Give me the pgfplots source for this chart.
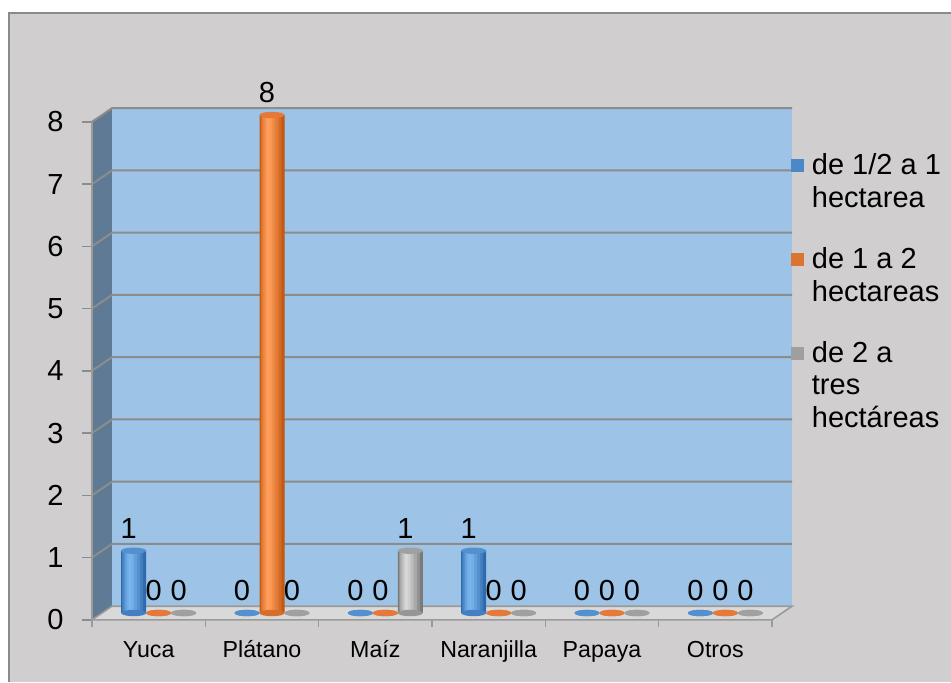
\documentclass[border=0pt]{standalone}
\usepackage{fontspec}
\setmainfont{Liberation Sans}
\usepackage{pgfplots}
\pgfplotsset{compat=1.18}
\usepackage{pgfplotstable}
\definecolor{bgc}{HTML}{D0CECE}
\definecolor{framec}{HTML}{8A8A8A}
\definecolor{wallc}{HTML}{9DC3E6}
\definecolor{sidec}{HTML}{5F7A94}
\definecolor{floorc}{HTML}{D9D9D9}
\definecolor{edgec}{HTML}{9A9A9A}
\definecolor{gridc}{HTML}{8C8C8C}
\definecolor{bD}{HTML}{2E6AAE}\definecolor{bL}{HTML}{78B4EC}\definecolor{bT}{HTML}{5290CF}
\definecolor{oD}{HTML}{C45812}\definecolor{oL}{HTML}{FF9E5A}\definecolor{oT}{HTML}{E4793A}
\definecolor{gD}{HTML}{7A7A7A}\definecolor{gL}{HTML}{D6D6D6}\definecolor{gT}{HTML}{A0A0A0}
\pgfdeclareplotmark{cyltop}{\pgfpathellipse{\pgfpointorigin}{\pgfqpoint{6.25pt}{0pt}}{\pgfqpoint{0pt}{1.6pt}}\pgfusepathqfill}
\pgfplotstableread{
x a b c
0 1 0 0
1 0 8 0
2 0 0 1
3 1 0 0
4 0 0 0
5 0 0 0
}\data
% pseudo-cylinder: stacked strips of the same bar, narrower and lighter
\newcommand\cyl[4]{%
 \addplot[forget plot, ybar, bar width=12.5pt, bar shift={#2pt}, draw=none, fill=#3] table[x=x, y=#1] {\data};
 \addplot[forget plot, ybar, bar width=10.5pt, bar shift={#2pt-0.5pt}, draw=none, fill=#4!25!#3] table[x=x, y=#1] {\data};
 \addplot[forget plot, ybar, bar width=8.5pt, bar shift={#2pt-0.9pt}, draw=none, fill=#4!50!#3] table[x=x, y=#1] {\data};
 \addplot[forget plot, ybar, bar width=6pt, bar shift={#2pt-1.3pt}, draw=none, fill=#4!72!#3] table[x=x, y=#1] {\data};
 \addplot[forget plot, ybar, bar width=3.5pt, bar shift={#2pt-1.6pt}, draw=none, fill=#4!90!#3] table[x=x, y=#1] {\data};
 \addplot[forget plot, ybar, bar width=1.5pt, bar shift={#2pt-1.8pt}, draw=none, fill=#4] table[x=x, y=#1] {\data};
}
\begin{document}
\begin{tikzpicture}
\useasboundingbox (-51pt,-34.5pt) rectangle (424.5pt,306.5pt);
\fill[white] (-51pt,-34.5pt) rectangle (424.5pt,306.5pt);
\fill[bgc] (-46.5pt,-34.5pt) rectangle (424.5pt,300pt);
\draw[framec, line width=0.8pt] (-46.5pt,-34.5pt) -- (-46.5pt,300pt) -- (424.5pt,300pt);
\begin{axis}[
  at={(0,0)}, anchor=south west,
  scale only axis, width=340pt, height=249pt,
  xmin=-0.5, xmax=5.5, ymin=0, ymax=8,
  clip=false,
  axis lines*=left, axis line style={draw=none},
  major tick length=0pt,
  /pgf/number format/assume math mode=true,
  ytick={0,...,8},
  xtick={0,...,5},
  xticklabels={Yuca,Plátano,Maíz,Naranjilla,Papaya,Otros},
  yticklabel style={font=\fontsize{14.5}{17}\selectfont, xshift=-15.7pt, yshift=-3.4pt},
  xticklabel style={font=\fontsize{11.6}{14}\selectfont, anchor=base, xshift=-5pt, yshift=-22pt},
  legend style={at={(axis description cs:1.004,0.935)}, anchor=north west, draw=none, fill=none,
    font=\fontsize{14.5}{16.3}\selectfont, row sep=16.5pt, nodes={align=left, inner sep=1pt}},
  legend cell align=left,
  nodes near coords style={font=\fontsize{14.5}{17}\selectfont, anchor=south, yshift=2.5pt, xshift=-2.5pt, text=black},
]
% walls
\fill[sidec] ([shift={(-5pt,-3.4pt)}]axis cs:-0.5,0) -- ([shift={(5pt,3.4pt)}]axis cs:-0.5,0) -- ([shift={(5pt,3.4pt)}]axis cs:-0.5,8) -- ([shift={(-5pt,-3.4pt)}]axis cs:-0.5,8) -- cycle;
\fill[wallc] ([shift={(5pt,3.4pt)}]axis cs:-0.5,0) rectangle ([shift={(5pt,3.4pt)}]axis cs:5.5,8);
\filldraw[fill=floorc, draw=edgec, line width=0.8pt] ([shift={(-5pt,-3.4pt)}]axis cs:-0.5,0) -- ([shift={(-5pt,-3.4pt)}]axis cs:5.5,0) -- ([shift={(5pt,3.4pt)}]axis cs:5.5,0) -- ([shift={(5pt,3.4pt)}]axis cs:-0.5,0) -- cycle;
\pgfplotsinvokeforeach{1,...,8}{
  \draw[gridc, line width=1pt] ([shift={(-5pt,-3.4pt)}]axis cs:-0.5,#1) -- ([shift={(5pt,3.4pt)}]axis cs:-0.5,#1) -- ([shift={(5pt,3.4pt)}]axis cs:5.5,#1);
}
\pgfplotsinvokeforeach{0,...,8}{
  \draw[gridc, line width=0.8pt] ([shift={(-5pt,-3.4pt)}]axis cs:-0.5,#1) -- ++(-5pt,0pt);
}
\draw[edgec, line width=0.8pt] ([shift={(-5pt,-3.4pt)}]axis cs:-0.5,0) -- ([shift={(-5pt,-3.4pt)}]axis cs:-0.5,8);
\pgfplotsinvokeforeach{-0.5,0.5,1.5,2.5,3.5,4.5,5.5}{
  \draw[edgec, line width=0.8pt] ([shift={(-5pt,-3.4pt)}]axis cs:#1,0) -- ++(0pt,-3.5pt);
}
% cylinder bottoms
\addplot[forget plot, only marks, mark=cyltop, mark options={fill=bL!30!bD, draw=none}] table[x expr=\thisrow{x}-0.2206, y expr=0] {\data};
\addplot[forget plot, only marks, mark=cyltop, mark options={fill=oL!30!oD, draw=none}] table[x=x, y expr=0] {\data};
\addplot[forget plot, only marks, mark=cyltop, mark options={fill=gL!30!gD, draw=none}] table[x expr=\thisrow{x}+0.2206, y expr=0] {\data};
% bars (cylinders)
\cyl{a}{-12.5}{bD}{bL}
\cyl{b}{0}{oD}{oL}
\cyl{c}{12.5}{gD}{gL}
% cylinder tops with value labels
\addplot[forget plot, only marks, mark=cyltop, mark options={fill=bT, draw=none}, nodes near coords] table[x expr=\thisrow{x}-0.2206, y=a] {\data};
\addplot[forget plot, only marks, mark=cyltop, mark options={fill=oT, draw=none}, nodes near coords] table[x=x, y=b] {\data};
\addplot[forget plot, only marks, mark=cyltop, mark options={fill=gT, draw=none}, nodes near coords] table[x expr=\thisrow{x}+0.2206, y=c] {\data};
% legend
\addlegendimage{legend image code/.code={\fill[bL!40!bD] (-3pt,5.15pt) rectangle (3pt,11.15pt); \path (0pt,-11.15pt) (6pt,0pt);}}
\addlegendentry{de 1/2 a 1\\hectarea}
\addlegendimage{legend image code/.code={\fill[oL!40!oD] (-3pt,5.15pt) rectangle (3pt,11.15pt); \path (0pt,-11.15pt) (6pt,0pt);}}
\addlegendentry{de 1 a 2\\hectareas}
\addlegendimage{legend image code/.code={\fill[gL!40!gD] (-3pt,13.3pt) rectangle (3pt,19.3pt); \path (0pt,-19.3pt) (6pt,0pt);}}
\addlegendentry{de 2 a\\tres\\hectáreas}
\end{axis}
\end{tikzpicture}
\end{document}
